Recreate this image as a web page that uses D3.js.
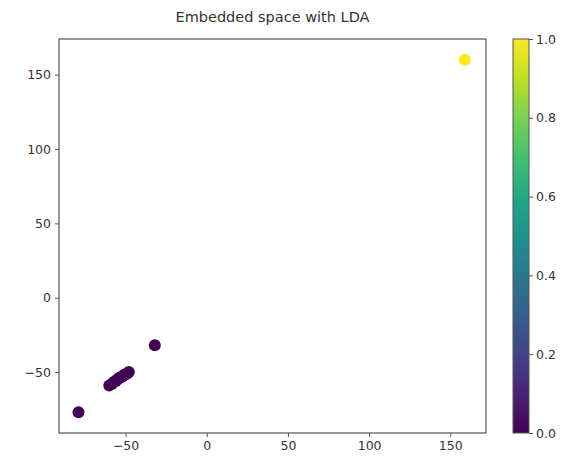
<!DOCTYPE html>
<html>
<head>
<meta charset="utf-8">
<script src="https://cdn.jsdelivr.net/npm/d3@7"></script>
<style>
  body { margin: 0; background: #fff; }
  svg text { font-family: "DejaVu Sans", sans-serif; fill: #333; }
</style>
</head>
<body>
<svg class="chart" width="572" height="466"></svg>
<script>
// embedded points (x, y) and their class label
var xs = [-79, -32, -60, -58.5, -57, -56, -55, -54, -53, -52, -51, -50, -49, -48, 159];
var ys = [-77, -32, -59, -58, -56.5, -56, -55, -54, -53.5, -53, -52, -51.5, -51, -50, 160];
var labels = [0, 0, 0, 0, 0, 0, 0, 0, 0, 0, 0, 0, 0, 0, 1];

var xTicks = [-50, 0, 50, 100, 150];
var yTicks = [-50, 0, 50, 100, 150];
var cbTicks = [0.0, 0.2, 0.4, 0.6, 0.8, 1.0];
var title = "Embedded space with LDA";

var margin = {top: 39, left: 59};
var width = 486 - 59;
var height = 433 - 39;

var chart = d3.select(".chart");

var x = d3.scaleLinear().domain([-91, 172]).range([0, width]);
var y = d3.scaleLinear().domain([-91, 174]).range([height, 0]);
var color = d3.scaleSequential(d3.interpolateViridis).domain([0, 1]);

var main = chart.append("g")
    .attr("transform", "translate(" + margin.left + "," + margin.top + ")");

// points
main.selectAll(".dot")
    .data(xs)
    .enter().append("circle")
    .attr("cx", function(d) { return x(d); })
    .attr("cy", function(d, i) { return y(ys[i]); })
    .attr("r", 6)
    .style("fill", function(d, i) { return color(labels[i]); });

// frame
main.append("rect")
    .attr("width", width)
    .attr("height", height)
    .style("fill", "none")
    .style("stroke", "#555")
    .style("stroke-width", "1.2px");

var xAxis = d3.axisBottom(x).tickValues(xTicks).tickSize(4).tickPadding(4)
    .tickFormat(function(d) { return d < 0 ? "\u2212" + Math.abs(d) : d; });
var gx = main.append("g")
    .attr("transform", "translate(0," + height + ")")
    .call(xAxis);

var yAxis = d3.axisLeft(y).tickValues(yTicks).tickSize(4).tickPadding(4)
    .tickFormat(function(d) { return d < 0 ? "\u2212" + Math.abs(d) : d; });
var gy = main.append("g").call(yAxis);

[gx, gy].forEach(function(g) {
    g.select(".domain").remove();
    g.selectAll("line").style("stroke", "#555");
    g.selectAll("text").style("font-size", "12.5px").style("fill", "#333");
});

// colorbar
var cbX = 513, cbW = 16;
var cb = chart.append("g").attr("transform", "translate(" + cbX + "," + margin.top + ")");
var cbY = d3.scaleLinear().domain([0, 1]).range([height, 0]);

var defs = chart.append("defs");
var grad = defs.append("linearGradient")
    .attr("id", "viridis")
    .attr("x1", "0").attr("y1", "1").attr("x2", "0").attr("y2", "0");
d3.range(0, 1.01, 0.1).forEach(function(t) {
    grad.append("stop").attr("offset", t).attr("stop-color", color(t));
});

cb.append("rect")
    .attr("width", cbW)
    .attr("height", height)
    .style("fill", "url(#viridis)")
    .style("stroke", "#555")
    .style("stroke-width", "1px");

var cbAxis = d3.axisRight(cbY).tickValues(cbTicks).tickSize(4).tickPadding(3)
    .tickFormat(d3.format(".1f"));
var gcb = cb.append("g")
    .attr("transform", "translate(" + cbW + ",0)")
    .call(cbAxis);
gcb.select(".domain").remove();
gcb.selectAll("line").style("stroke", "#555");
gcb.selectAll("text").style("font-size", "12.5px").style("fill", "#333");

chart.append("text")
    .attr("x", margin.left + width / 2)
    .attr("y", 22)
    .attr("text-anchor", "middle")
    .style("font-size", "14.5px")
    .text(title);
</script>
</body>
</html>
